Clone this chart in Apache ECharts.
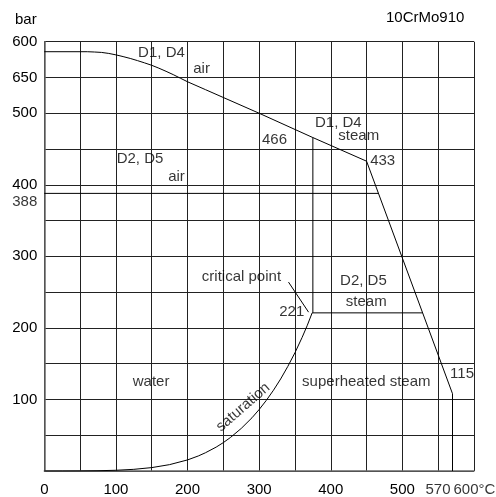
<!DOCTYPE html>
<html>
<head>
<meta charset="utf-8">
<script src="https://cdn.jsdelivr.net/npm/echarts@6/dist/echarts.min.js"></script>
<style>
html,body{margin:0;padding:0;background:#fff;}
#chart{width:496px;height:497px;}
</style>
</head>
<body>
<div id="chart"></div>
<script>
// ---- data ----
const titleText = '10CrMo910';
const yUnit = 'bar';
const yTickLabels = {600:'600',550:'650',500:'500',400:'400',300:'300',200:'200',100:'100'};
const xTickLabels = {0:'0',100:'100',200:'200',300:'300',400:'400',500:'500'};
const airD1D4 = [[0,586],[50,586],[60,586],[70,585.6],[80,585],[90,583.6],[100,581.6],[110,579.2],[120,576.6],[130,573.6],[140,570.4],[150,567],[160,563],[170,558.6],[180,554],[190,549],[200,544],[225,533],[250,522],[300,500]];
const steamD1D4 = [[300,500],[375,466],[450,433],[570,108],[570,0]];
const airD2D5 = [[0,388],[466.7,388]];
const steamD2D5 = [[374,221],[528.3,221]];
const criticalIsotherm = [[375,221],[375,466]];
const saturation = [[0,0],[25,0.03],[50,0.12],[75,0.39],[100,1.01],[125,2.32],[150,4.76],[175,8.92],[200,15.5],[215,21],[225,25.5],[240,33.4],[250,39.7],[260,46.9],[275,59.5],[290,74.4],[300,85.9],[310,98.7],[320,112.9],[330,128.6],[340,146.1],[350,165.3],[360,186.7],[367,203],[374,221]];
const leader = [[341,264],[369,222]];
const annotations = [
  [131,584,'D1, D4'],
  [208,562,'air'],
  [101,436,'D2, D5'],
  [173,411,'air'],
  [378,487,'D1, D4'],
  [410.6,468,'steam'],
  [304,463,'466'],
  [455,434,'433'],
  [220,272,'critical point'],
  [328,222.5,'221'],
  [413,266,'D2, D5'],
  [421,237,'steam'],
  [566.6,136,'115'],
  [123.5,124,'water'],
  [360,124,'superheated steam']
];
const saturationLabel = [277.5,89,'saturation'];
const extraYLabel = [0,388,'388'];
const extraXLabels = [[570,0,'570'],[570,0,'600°C']];

// ---- chart ----
const FONT = 'Liberation Sans';
const txt = {color:'#000', fontFamily:FONT, fontSize:15};
const lineSeries = (data) => ({
  type:'line', data, showSymbol:false, symbol:'none', smooth:false,
  lineStyle:{color:'#000', width:1}, silent:true, z:3
});

const chart = echarts.init(document.getElementById('chart'));
chart.setOption({
  animation:false,
  backgroundColor:'#fff',
  title:[
    {text:titleText, left:386, top:10, padding:0, textStyle:Object.assign({fontWeight:'normal'}, txt)},
    {text:yUnit, left:15, top:12, padding:0, textStyle:Object.assign({fontWeight:'normal'}, txt)}
  ],
  grid:{left:44.3, right:22, top:41.7, bottom:25},
  xAxis:{
    type:'value', min:0, max:600, interval:50,
    axisLine:{show:true, lineStyle:{color:'#666', width:1.5}},
    axisTick:{show:false},
    splitLine:{show:true, lineStyle:{color:'#222', width:1}},
    axisLabel:Object.assign({margin:11, formatter:v => xTickLabels[v] || ''}, txt)
  },
  yAxis:{
    type:'value', min:0, max:600, interval:50,
    axisLine:{show:true, lineStyle:{color:'#666', width:1.5}},
    axisTick:{show:false},
    splitLine:{show:true, lineStyle:{color:'#222', width:1}},
    axisLabel:Object.assign({margin:7, formatter:v => yTickLabels[v] || ''}, txt)
  },
  series:[
    lineSeries(airD1D4),
    lineSeries(steamD1D4),
    lineSeries(airD2D5),
    lineSeries(steamD2D5),
    lineSeries(criticalIsotherm),
    lineSeries(saturation),
    lineSeries(leader),
    {
      type:'scatter', symbolSize:0, silent:true, z:5,
      data: annotations.map(a => ({value:[a[0],a[1]], name:a[2]})),
      label:Object.assign({show:true, position:'right', distance:0, formatter:p => p.name}, txt)
    },
    {
      type:'scatter', symbolSize:0, silent:true, z:5,
      data:[
        {value:[saturationLabel[0],saturationLabel[1]], name:saturationLabel[2],
          label:{position:'inside', rotate:41}},
        {value:[extraYLabel[0],extraYLabel[1]], name:extraYLabel[2],
          label:{position:'left', distance:7, offset:[0,8]}},
        {value:[extraXLabels[0][0],extraXLabels[0][1]], name:extraXLabels[0][2],
          label:{position:'bottom', distance:11, align:'right', offset:[-2,0]}},
        {value:[extraXLabels[1][0],extraXLabels[1][1]], name:extraXLabels[1][2],
          label:{position:'bottom', distance:11, align:'left', offset:[1,0]}}
      ],
      label:Object.assign({show:true, formatter:p => p.name}, txt)
    }
  ]
});
</script>
</body>
</html>
